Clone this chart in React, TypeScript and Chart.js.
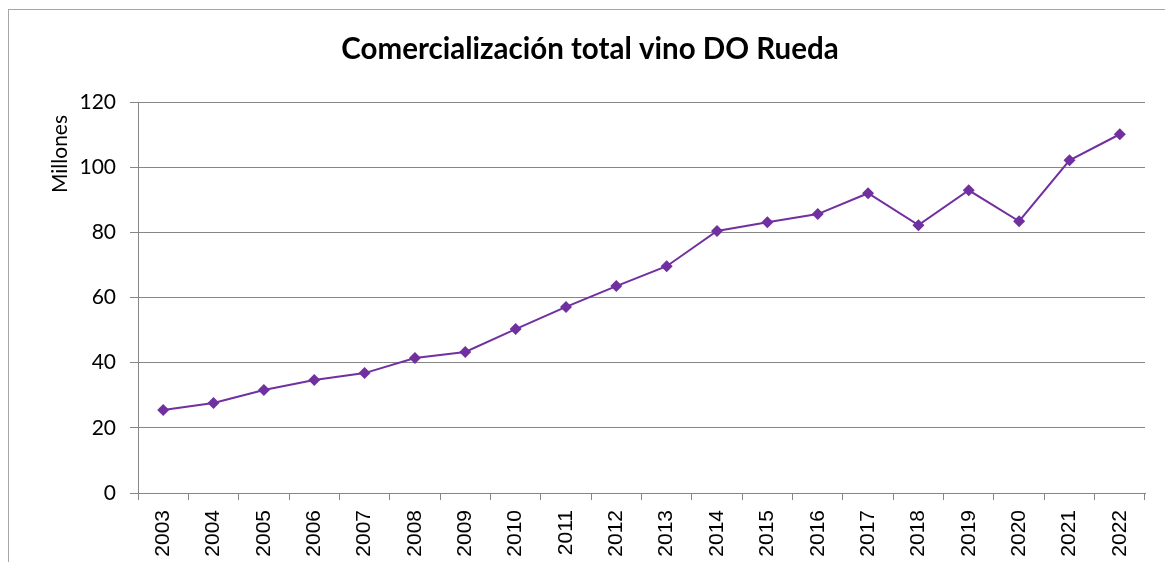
import React, { useEffect, useRef } from "react";
import { Chart, registerables } from "chart.js";

Chart.register(...registerables);

const years = ["2003","2004","2005","2006","2007","2008","2009","2010","2011","2012","2013","2014","2015","2016","2017","2018","2019","2020","2021","2022"];
const valores = [25.5, 27.6, 31.6, 34.7, 36.8, 41.4, 43.3, 50.3, 57.1, 63.5, 69.6, 80.4, 83.1, 85.6, 92.0, 82.2, 92.9, 83.4, 102.1, 110.1];
const titulo = "Comercialización total vino DO Rueda";
const ejeY = "Millones";

const W = 1157;
const H = 554;

const framePlugin = {
  id: "frame",
  beforeDraw(chart: any) {
    const ctx = chart.ctx;
    ctx.save();
    ctx.strokeStyle = "#a6a6a6";
    ctx.lineWidth = 1;
    ctx.strokeRect(0.5, 1.5, chart.width + 20, chart.height + 20);
    ctx.restore();
  },
  afterDraw(chart: any) {
    const ctx = chart.ctx;
    ctx.save();
    ctx.fillStyle = "#000";
    ctx.font = "21px Lato";
    ctx.textAlign = "center";
    ctx.textBaseline = "middle";
    ctx.translate(52, 146);
    ctx.rotate(-Math.PI / 2);
    ctx.fillText(ejeY, 0, 0);
    ctx.restore();
  },
};

export default function App() {
  const ref = useRef<HTMLCanvasElement | null>(null);
  useEffect(() => {
    if (!ref.current) return;
    const chart = new Chart(ref.current, {
      type: "line",
      data: {
        labels: years,
        datasets: [
          {
            data: valores,
            borderColor: "#7030A0",
            backgroundColor: "#7030A0",
            borderWidth: 2,
            pointStyle: "rectRot",
            pointRadius: 6,
            pointBorderWidth: 0,
            tension: 0,
          },
        ],
      },
      options: {
        responsive: false,
        animation: false,
        layout: { padding: { left: 27, right: 20, top: 0, bottom: 0 } },
        plugins: {
          legend: { display: false },
          tooltip: { enabled: false },
          title: {
            display: true,
            text: titulo,
            color: "#000",
            font: { family: "Lato", size: 29.5, weight: "bold" },
            padding: { top: 24, bottom: 34.6 },
          },
        },
        scales: {
          x: {
            offset: true,
            afterFit: (s: any) => { s.height = 69; },
            grid: {
              display: true,
              offset: true,
              drawOnChartArea: false,
              drawTicks: true,
              tickLength: 7,
              color: "#868686",
            },
            border: { display: true, color: "#868686" },
            ticks: {
              color: "#000",
              font: { family: "Liberation Sans", size: 21 },
              minRotation: 90,
              maxRotation: 90,
              padding: 10,
              autoSkip: false,
            },
          },
          y: {
            min: 0,
            max: 120,
            afterFit: (s: any) => { s.width = 103; },
            grid: {
              color: "#868686",
              tickLength: 8,
            },
            border: { display: true, color: "#868686" },
            ticks: {
              stepSize: 20,
              color: "#000",
              font: { family: "Lato", size: 21 },
              padding: 14,
            },
          },
        },
      },
      plugins: [framePlugin],
    });
    return () => chart.destroy();
  }, []);
  return (
    <canvas ref={ref} width={W} height={H} style={{ display: "block", width: W + "px", height: H + "px" }} />
  );
}
